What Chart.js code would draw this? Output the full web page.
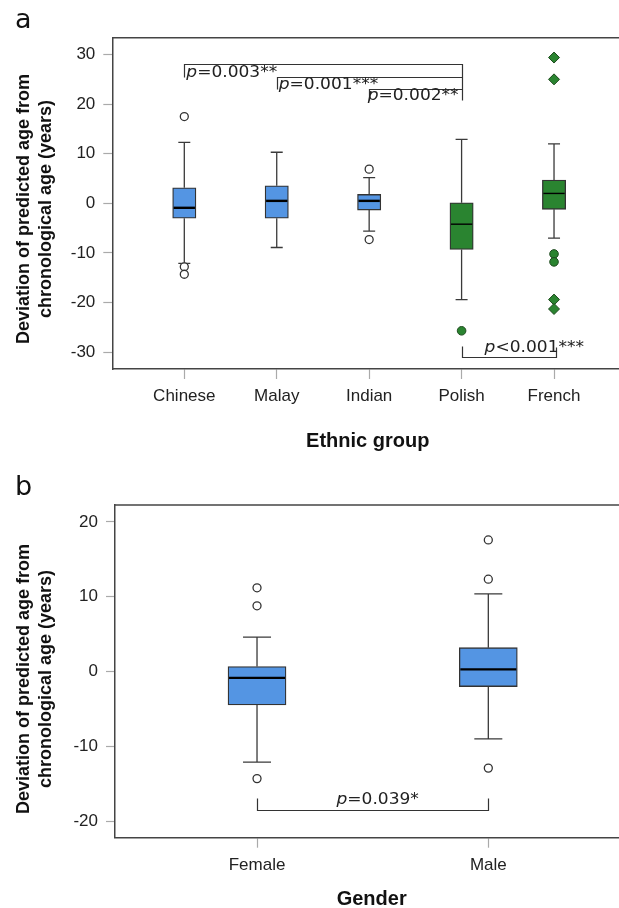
<!DOCTYPE html>
<html><head><meta charset="utf-8">
<script src="https://cdn.jsdelivr.net/npm/chart.js@4.4.1/dist/chart.umd.min.js"></script>
<style>
html,body{margin:0;padding:0;background:#fff;width:619px;height:908px;overflow:hidden}
canvas{position:absolute;left:0;display:block}
#ca{top:0}
#cb{top:460px}
</style></head><body>
<canvas id="ca" width="619" height="460"></canvas>
<canvas id="cb" width="619" height="448"></canvas>
<script>
// ---------- Panel a data ----------
const ethnicGroups = ['Chinese', 'Malay', 'Indian', 'Polish', 'French'];
const ethnicQ1 = [-3.0, -3.0, -1.35, -9.3, -1.2];
const ethnicMedian = [-0.9, 0.5, 0.5, -4.2, 2.0];
const ethnicQ3 = [3.15, 3.55, 1.8, 0.1, 4.7];
const ethnicWhiskerLow = [-12.1, -8.9, -5.6, -19.4, -7.0];
const ethnicWhiskerHigh = [12.3, 10.3, 5.2, 12.9, 12.0];
const ethnicOutliersOpen = [[17.5, -12.8, -14.3], [], [6.9, -7.3], [], []];
const ethnicOutliersFilled = [[], [], [], [-25.7], [-10.2, -11.8]];
const ethnicOutliersExtreme = [[], [], [], [], [29.4, 25.0, -19.4, -21.3]];
const ethnicYTicks = [-30, -20, -10, 0, 10, 20, 30];

// ---------- Panel b data ----------
const genderGroups = ['Female', 'Male'];
const genderQ1 = [-4.45, -2.0];
const genderMedian = [-0.84, 0.3];
const genderQ3 = [0.67, 3.2];
const genderWhiskerLow = [-12.1, -9.0];
const genderWhiskerHigh = [4.6, 10.4];
const genderOutliersOpen = [[11.2, 8.8, -14.3], [17.6, 12.35, -12.9]];
const genderYTicks = [-20, -10, 0, 10, 20];

// ---------- Significance annotations (data coordinates) ----------
const ethnicBrackets = [
  [[1, 25.52], [1, 28.06], [4, 28.06], [4, 20.83]],
  [[2, 22.98], [2, 25.52], [4, 25.52]],
  [[3, 20.83], [3, 22.98], [4, 22.98]],
  [[4, -28.7], [4, -31.05], [5.02, -31.05], [5.02, -28.9]]
];
const ethnicPLabels = [
  {x: 1, y: 26.3, rest: '=0.003**'},
  {x: 2, y: 23.95, rest: '=0.001***'},
  {x: 3, y: 21.6, rest: '=0.002**'},
  {x: 4, y: -29.23, rest: '<0.001***'}
];
const genderBrackets = [
  [[1, -16.93], [1, -18.49], [2, -18.49], [2, -16.93]]
];
const genderPLabels = [
  {x: 1.5, y: -17.09, rest: '=0.039*'}
];

const BLUE = '#5495e3';
const GREEN = '#2a8430';
const SANS = '"Liberation Sans", Arial, sans-serif';
Chart.defaults.font.family = SANS;
Chart.defaults.color = '#222';

function pts(arrs) {
  const out = [];
  arrs.forEach((arr, i) => arr.forEach(v => out.push({x: i + 1, y: v})));
  return out;
}

function drawPText(ctx, x, y, rest, align) {
  const sx = 1.1;
  const F = '15.5px "DejaVu Sans"';
  ctx.save();
  ctx.font = 'italic ' + F;
  const wp = ctx.measureText('p').width;
  ctx.font = F;
  const wr = ctx.measureText(rest).width;
  const total = (wp + wr) * sx;
  let left = x;
  if (align === 'center') left = x - total / 2;
  ctx.translate(left, y);
  ctx.scale(sx, 1);
  ctx.textBaseline = 'middle';
  ctx.textAlign = 'left';
  ctx.fillStyle = '#222';
  ctx.font = 'italic ' + F;
  ctx.fillText('p', 0, 0);
  ctx.font = F;
  ctx.fillText(rest, wp, 0);
  ctx.restore();
}

const boxPlugin = {
  id: 'boxExtras',
  beforeDatasetsDraw(chart, args, o) {
    const {ctx, scales: {x, y}} = chart;
    ctx.save();
    ctx.strokeStyle = '#3a3a3a';
    ctx.lineWidth = 1.3;
    o.groups.forEach((g, i) => {
      const px = x.getPixelForValue(i + 1);
      [[o.q3[i], o.hi[i]], [o.q1[i], o.lo[i]]].forEach(([a, b]) => {
        const ya = y.getPixelForValue(a), yb = y.getPixelForValue(b);
        ctx.beginPath();
        ctx.moveTo(px, ya); ctx.lineTo(px, yb);
        ctx.moveTo(px - o.capHalf, yb); ctx.lineTo(px + o.capHalf, yb);
        ctx.stroke();
      });
    });
    ctx.restore();
  },
  afterDatasetsDraw(chart, args, o) {
    const {ctx, scales: {x, y}, chartArea: ca} = chart;
    ctx.save();
    ctx.strokeStyle = '#444';
    ctx.lineWidth = 1.5;
    ctx.beginPath(); ctx.moveTo(ca.left, ca.top); ctx.lineTo(ca.right, ca.top); ctx.stroke();
    o.groups.forEach((g, i) => {
      const px = x.getPixelForValue(i + 1);
      const ym = y.getPixelForValue(o.med[i]);
      ctx.strokeStyle = '#000';
      ctx.lineWidth = o.medWidth[i];
      ctx.beginPath(); ctx.moveTo(px - o.boxHalf + 1, ym); ctx.lineTo(px + o.boxHalf - 1, ym); ctx.stroke();
    });
    ctx.strokeStyle = '#333';
    ctx.lineWidth = 1.2;
    o.brackets.forEach(b => {
      ctx.beginPath();
      b.forEach(([vx, vy], k) => {
        const X = Math.round(x.getPixelForValue(vx)) + 0.5, Y = Math.round(y.getPixelForValue(vy)) + 0.5;
        if (k === 0) ctx.moveTo(X, Y); else ctx.lineTo(X, Y);
      });
      ctx.stroke();
    });
    o.labels.forEach((l, k) => {
      drawPText(ctx, x.getPixelForValue(l.x) + o.labelDx[k], y.getPixelForValue(l.y), l.rest, o.labelAlign[k]);
    });
    ctx.restore();
  },
  afterDraw(chart, args, o) {
    const {ctx} = chart;
    ctx.save();
    ctx.fillStyle = '#111';
    ctx.font = '27px "DejaVu Sans"';
    ctx.textBaseline = 'alphabetic';
    ctx.textAlign = 'left';
    ctx.fillText(o.panel, 15, o.panelY);
    ctx.font = 'bold 18px ' + SANS;
    ctx.textAlign = 'center';
    ctx.save();
    ctx.translate(29, o.yTitleY);
    ctx.rotate(-Math.PI / 2);
    ctx.fillText('Deviation of predicted age from', 0, 0);
    ctx.restore();
    ctx.save();
    ctx.translate(51, o.yTitleY);
    ctx.rotate(-Math.PI / 2);
    ctx.fillText('chronological age (years)', 0, 0);
    ctx.restore();
    ctx.font = 'bold 20px ' + SANS;
    ctx.fillText(o.xTitle, o.xTitleX, o.xTitleY);
    ctx.restore();
  }
};

function build(canvas, d) {
  const datasets = [
    {
      type: 'bar',
      data: d.groups.map((g, i) => ({x: i + 1, y: [d.q1[i], d.q3[i]]})),
      backgroundColor: d.colors,
      borderColor: '#333',
      borderWidth: 1.3,
      borderSkipped: false,
      barThickness: d.barThickness,
      order: 5
    },
    {
      type: 'scatter',
      data: pts(d.open),
      pointStyle: 'circle',
      pointRadius: 4,
      backgroundColor: '#fff',
      borderColor: '#333',
      borderWidth: 1.3,
      order: 1
    }
  ];
  if (d.filled) datasets.push({
    type: 'scatter', data: pts(d.filled), pointStyle: 'circle', pointRadius: 4.3,
    backgroundColor: GREEN, borderColor: '#1e4a1e', borderWidth: 1, order: 1
  });
  if (d.extreme) datasets.push({
    type: 'scatter', data: pts(d.extreme), pointStyle: 'rectRot', pointRadius: 5.5,
    backgroundColor: GREEN, borderColor: '#1e4a1e', borderWidth: 1, order: 1
  });
  return new Chart(canvas, {
    type: 'bar',
    data: {datasets},
    options: {
      responsive: false,
      animation: false,
      devicePixelRatio: 1,
      layout: {autoPadding: false, padding: {top: d.topPad, left: 0, right: 0, bottom: 0}},
      plugins: {
        legend: {display: false},
        tooltip: {enabled: false},
        boxExtras: {
          groups: d.groups, q1: d.q1, q3: d.q3, med: d.med, lo: d.lo, hi: d.hi,
          capHalf: d.capHalf, boxHalf: d.barThickness / 2, medWidth: d.medWidth,
          brackets: d.brackets, labels: d.labels, labelDx: d.labelDx, labelAlign: d.labelAlign,
          panel: d.panel, panelY: d.panelY, yTitleY: d.yTitleY,
          xTitle: d.xTitle, xTitleX: d.xTitleX, xTitleY: d.xTitleY
        }
      },
      scales: {
        x: {
          type: 'linear',
          offset: false,
          min: d.xMin, max: d.xMax,
          afterFit(s) { s.height = d.xAxisH; },
          afterBuildTicks(s) { s.ticks = d.groups.map((g, i) => ({value: i + 1})); },
          ticks: {
            callback: v => d.groups[Math.round(v) - 1],
            font: {size: 17}, color: '#222', padding: 7, maxRotation: 0, autoSkip: false
          },
          grid: {offset: false, drawOnChartArea: false, drawTicks: true, tickLength: 10, tickColor: '#aaa', tickWidth: 1.2},
          border: {display: true, color: '#444', width: 1.5}
        },
        y: {
          type: 'linear',
          min: d.yMin, max: d.yMax,
          afterFit(s) { s.width = d.leftW; },
          afterBuildTicks(s) { s.ticks = d.yTicks.map(v => ({value: v})); },
          ticks: {font: {size: 17}, color: '#222', padding: 8},
          grid: {offset: false, drawOnChartArea: false, drawTicks: true, tickLength: 9, tickColor: '#aaa', tickWidth: 1.2},
          border: {display: true, color: '#444', width: 1.5}
        }
      }
    },
    plugins: [boxPlugin]
  });
}

build(document.getElementById('ca'), {
  groups: ethnicGroups, q1: ethnicQ1, q3: ethnicQ3, med: ethnicMedian,
  lo: ethnicWhiskerLow, hi: ethnicWhiskerHigh,
  open: ethnicOutliersOpen, filled: ethnicOutliersFilled, extreme: ethnicOutliersExtreme,
  colors: [BLUE, BLUE, BLUE, GREEN, GREEN],
  medWidth: [2.4, 2.4, 2.4, 1.4, 1.4],
  barThickness: 23.3, capHalf: 6,
  xMin: 0.221, xMax: 5.703, yMin: -33.4, yMax: 33.4, yTicks: ethnicYTicks,
  leftW: 112.3, topPad: 37.7, xAxisH: 91,
  brackets: ethnicBrackets, labels: ethnicPLabels,
  labelDx: [2, 2, -1.5, 23], labelAlign: ['left', 'left', 'left', 'left'],
  panel: 'a', panelY: 28, yTitleY: 209,
  xTitle: 'Ethnic group', xTitleX: 367.7, xTitleY: 447
});

build(document.getElementById('cb'), {
  groups: genderGroups, q1: genderQ1, q3: genderQ3, med: genderMedian,
  lo: genderWhiskerLow, hi: genderWhiskerHigh,
  open: genderOutliersOpen,
  colors: [BLUE, BLUE],
  medWidth: [2.4, 2.4],
  barThickness: 58, capHalf: 14,
  xMin: 0.386, xMax: 2.565, yMin: -22.2, yMax: 22.27, yTicks: genderYTicks,
  leftW: 115, topPad: 45, xAxisH: 70.3,
  brackets: genderBrackets, labels: genderPLabels,
  labelDx: [5], labelAlign: ['center'],
  panel: 'b', panelY: 35, yTitleY: 219,
  xTitle: 'Gender', xTitleX: 371.7, xTitleY: 445
});
</script>
</body></html>
